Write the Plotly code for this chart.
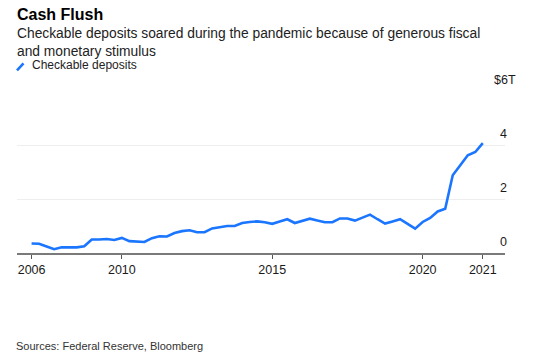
import plotly.graph_objects as go

# ---- data ----
period_index = list(range(61))
deposits_trillions = [0.35, 0.34, 0.24, 0.14, 0.21, 0.21, 0.21, 0.25, 0.50, 0.50,
                      0.52, 0.48, 0.56, 0.44, 0.43, 0.41, 0.55, 0.62, 0.61, 0.74,
                      0.81, 0.84, 0.77, 0.77, 0.91, 0.96, 1.00, 1.00, 1.11, 1.15,
                      1.17, 1.14, 1.08, 1.17, 1.25, 1.11, 1.19, 1.27, 1.20, 1.14,
                      1.14, 1.28, 1.28, 1.20, 1.31, 1.42, 1.25, 1.09, 1.17, 1.25,
                      1.08, 0.90, 1.15, 1.30, 1.54, 1.64, 2.88, 3.25, 3.62, 3.74, 4.07]
x_tick_positions = [0, 12, 32, 52, 60]
x_tick_labels = ["2006", "2010", "2015", "2020", "2021"]
y_tick_values = [0, 2, 4, 6]
y_tick_labels = ["0", "2", "4", "$6T"]
series_name = "Checkable deposits"

title = "Cash Flush"
subtitle = "Checkable deposits soared during the pandemic because of generous fiscal<br>and monetary stimulus"
source = "Sources: Federal Reserve, Bloomberg"

# body margin is removed in the page, so figure pixel = page pixel
OFF = 0
W, H = 550 - OFF, 359 - OFF
L, R, T, B = 17 - OFF, 45, 90.7 - OFF, 105.7
plot_h = H - T - B
plot_w = W - L - R
BLUE = "#1a75ff"
FONT = "Liberation Sans, Arial, sans-serif"


def py(p):  # page y pixel -> paper y
    return (H - B - (p - OFF)) / plot_h


def px(p):  # page x pixel -> paper x
    return ((p - OFF) - L) / plot_w


fig = go.Figure()
fig.add_trace(go.Scatter(x=period_index, y=deposits_trillions, mode="lines",
                         line=dict(color=BLUE, width=2.6), name=series_name,
                         showlegend=False, hoverinfo="skip"))

fig.update_layout(
    width=W, height=H, margin=dict(l=L, r=R, t=T, b=B),
    paper_bgcolor="white", plot_bgcolor="white",
    font=dict(family=FONT, size=12.5, color="#1a1a1a"),
    showlegend=False,
    xaxis=dict(range=[-1.94, 62.95], tickmode="array", tickvals=x_tick_positions,
               ticktext=x_tick_labels, showgrid=False, zeroline=False,
               showline=True, linecolor="#7a7a7a", linewidth=2,
               ticks="outside", ticklen=4, tickwidth=1, tickcolor="#555",
               tickfont=dict(size=12.5, color="#1a1a1a"), fixedrange=True),
    yaxis=dict(range=[0, 6], tickmode="array", tickvals=y_tick_values,
               showticklabels=False, showgrid=True, gridcolor="#eeeeee",
               gridwidth=1, zeroline=False, showline=False, fixedrange=True),
)

annotations = [
    dict(text="<b>" + title + "</b>", x=px(15), y=py(14), xanchor="left", yanchor="middle",
         font=dict(size=16, color="#000")),
    dict(text=subtitle, x=px(15), y=py(42), xanchor="left", yanchor="middle",
         align="left", font=dict(size=13.8, color="#222")),
    dict(text=series_name, x=px(30), y=py(65), xanchor="left", yanchor="middle",
         font=dict(size=12, color="#222")),
    dict(text=source, x=px(14), y=py(347), xanchor="left", yanchor="middle",
         font=dict(size=11, color="#333")),
]
for v, lab in zip(y_tick_values, y_tick_labels):
    annotations.append(dict(text=lab, x=1, xref="paper", y=v, yref="y",
                            xanchor="left", yanchor="middle", yshift=11,
                            xshift=(-13 if lab.startswith("$") else -7),
                            showarrow=False, font=dict(size=12.5, color="#1a1a1a")))
for a in annotations:
    a.setdefault("xref", "paper")
    a.setdefault("yref", "paper")
    a.setdefault("showarrow", False)
fig.update_layout(annotations=annotations)

# legend swatch (diagonal stroke)
fig.add_shape(type="line", xref="paper", yref="paper",
              x0=px(17), y0=py(70), x1=px(23.5), y1=py(63),
              line=dict(color=BLUE, width=2.6))

fig.write_html("out.html", config={"displayModeBar": False, "staticPlot": True},
               post_script="document.body.style.margin='0';")
